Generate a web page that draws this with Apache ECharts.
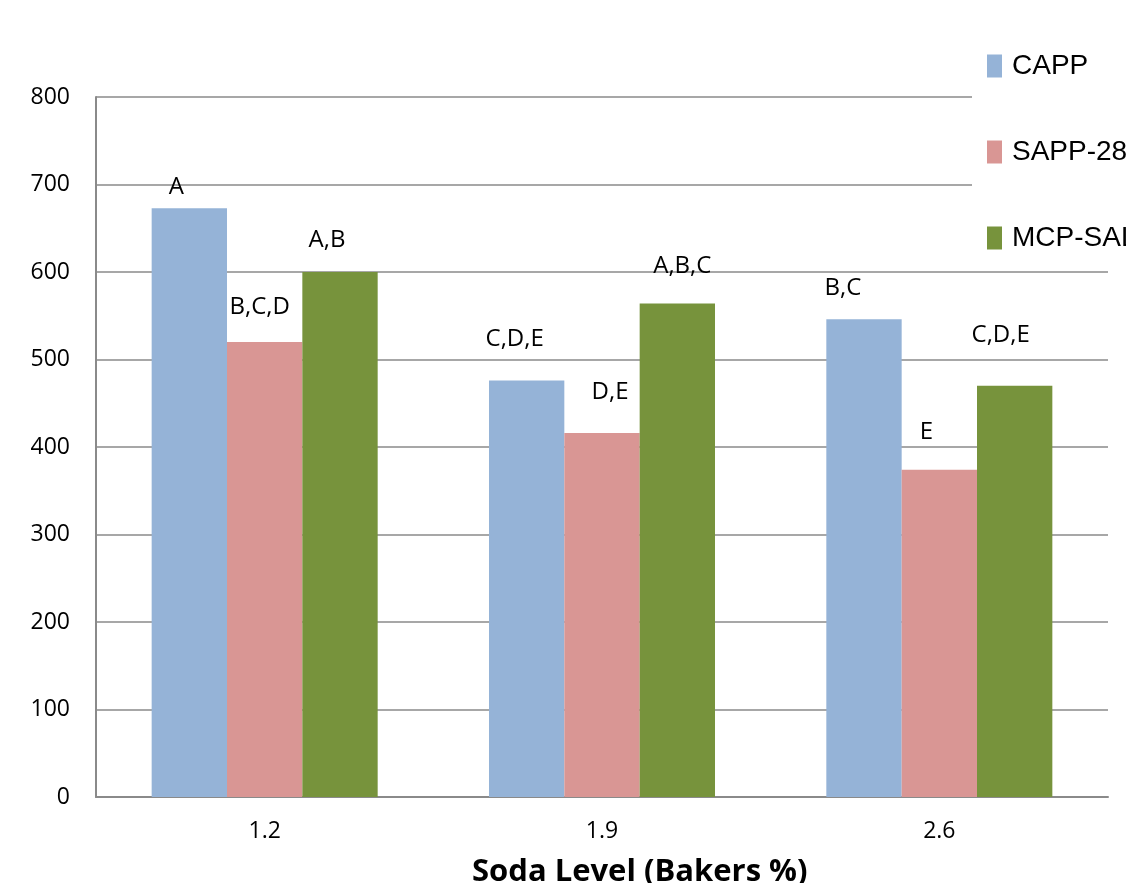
<!DOCTYPE html>
<html>
<head>
<meta charset="utf-8">
<title>Soda Level</title>
<script src="https://cdn.jsdelivr.net/npm/echarts@6/dist/echarts.min.js"></script>
<style>
  html, body { margin: 0; padding: 0; background: #ffffff; }
  #chart { width: 1126px; height: 883px; }
</style>
</head>
<body>
<div id="chart"></div>
<script>
// Soda level categories (Bakers %)
const sodaLevels = ['1.2', '1.9', '2.6'];

// Series values per leavening acid
const cappValues = [673, 476, 546];
const sapp28Values = [520, 416, 374];
const mcpSalValues = [600, 564, 470];

// Significance letters shown above each bar
const cappLetters = ['A', 'C,D,E', 'B,C'];
const sapp28Letters = ['B,C,D', 'D,E', 'E'];
const mcpSalLetters = ['A,B', 'A,B,C', 'C,D,E'];

// Value axis ticks
const yTicks = { min: 0, max: 800, interval: 100 };

// Small per-label nudges [dx, rise above bar top]
const cappNudge = [[-13, 21], [-12, 41], [-21, 31]];
const sapp28Nudge = [[-5, 35], [8, 41], [-13, 38]];
const mcpSalNudge = [[-13, 32], [5, 37], [-14, 51]];

const FONT = '"Open Sans", "Liberation Sans", sans-serif';
const LABEL_SIZE = 24;

function buildData(values, letters, nudges) {
  return values.map((v, i) => ({
    value: v,
    label: {
      show: true,
      position: 'top',
      distance: 0,
      formatter: letters[i],
      offset: [nudges[i][0], -(nudges[i][1] - LABEL_SIZE / 2)],
      fontFamily: FONT,
      fontSize: LABEL_SIZE,
      lineHeight: LABEL_SIZE,
      color: '#000000'
    }
  }));
}

const chart = echarts.init(document.getElementById('chart'), null, { renderer: 'canvas' });

chart.setOption({
  animation: false,
  backgroundColor: '#ffffff',
  title: {
    text: 'Soda Level (Bakers %)',
    left: 472,
    top: 857,
    padding: 0,
    textStyle: {
      fontFamily: FONT,
      fontSize: 31,
      fontWeight: 'bold',
      color: '#000000'
    }
  },
  legend: {
    orient: 'vertical',
    left: 972,
    top: 40,
    padding: [12, 0, 14, 15],
    backgroundColor: '#ffffff',
    itemWidth: 15,
    itemHeight: 23,
    itemGap: 58,
    icon: 'rect',
    textStyle: {
      fontFamily: '"Liberation Sans", Arial, sans-serif',
      fontSize: 28,
      lineHeight: 23,
      color: '#000000',
      padding: [0, 0, 0, 5]
    },
    data: ['CAPP', 'SAPP-28', 'MCP-SAL']
  },
  grid: {
    left: 96,
    right: 18,
    top: 97,
    bottom: 86,
    containLabel: false
  },
  xAxis: {
    type: 'category',
    data: sodaLevels,
    axisLine: { show: true, lineStyle: { color: '#8a8a8a', width: 2 } },
    axisTick: { show: false },
    axisLabel: {
      margin: 23,
      fontFamily: FONT,
      fontSize: 23,
      color: '#000000'
    }
  },
  yAxis: {
    type: 'value',
    min: yTicks.min,
    max: yTicks.max,
    interval: yTicks.interval,
    axisLine: { show: true, lineStyle: { color: '#8a8a8a', width: 2 } },
    axisTick: { show: false },
    splitLine: { show: true, lineStyle: { color: '#8a8a8a', width: 1.5 } },
    axisLabel: {
      margin: 26,
      fontFamily: FONT,
      fontSize: 23,
      color: '#000000'
    }
  },
  series: [
    {
      name: 'CAPP',
      type: 'bar',
      barGap: '0%',
      barCategoryGap: '33%',
      itemStyle: { color: '#95B3D7' },
      data: buildData(cappValues, cappLetters, cappNudge)
    },
    {
      name: 'SAPP-28',
      type: 'bar',
      barGap: '0%',
      barCategoryGap: '33%',
      itemStyle: { color: '#D99694' },
      data: buildData(sapp28Values, sapp28Letters, sapp28Nudge)
    },
    {
      name: 'MCP-SAL',
      type: 'bar',
      barGap: '0%',
      barCategoryGap: '33%',
      itemStyle: { color: '#77933C' },
      data: buildData(mcpSalValues, mcpSalLetters, mcpSalNudge)
    }
  ]
});
</script>
</body>
</html>
